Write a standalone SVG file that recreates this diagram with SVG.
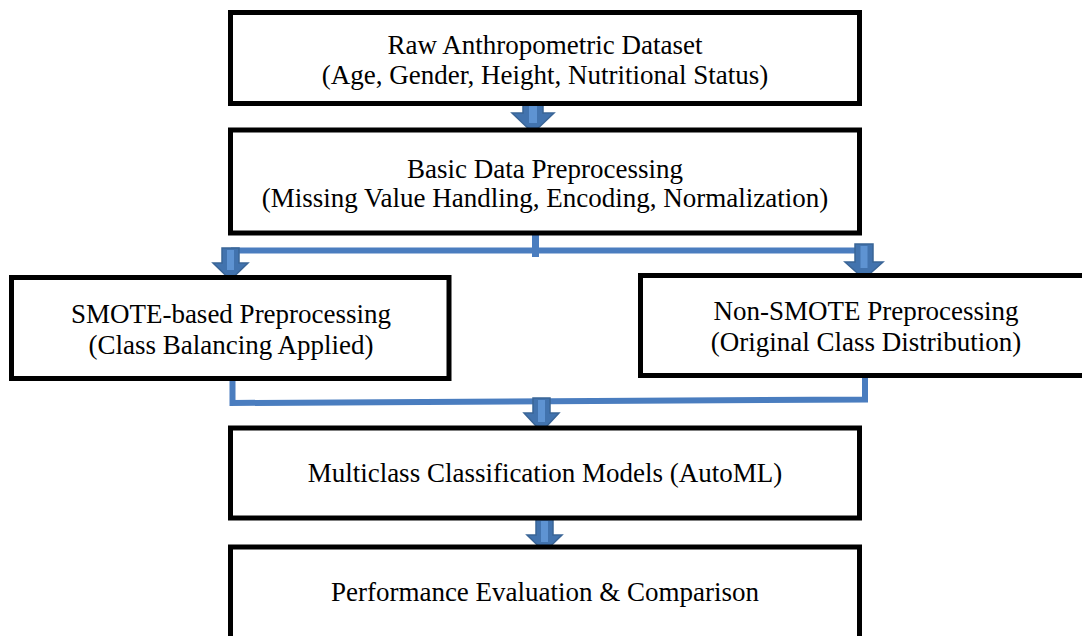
<svg xmlns="http://www.w3.org/2000/svg" width="1082" height="636" viewBox="0 0 1082 636">
<style>
.box{fill:#fff;stroke:#000;stroke-width:5}
.t{font-family:"Liberation Serif","Times New Roman",serif;font-size:27px;fill:#000;text-anchor:middle}
.conn{fill:none;stroke:#4A7DBF;stroke-width:6;stroke-linejoin:miter;stroke-linecap:butt}
.arr{fill:#4273AE;stroke:#3A6597;stroke-width:1.5;stroke-linejoin:miter}
.hl{fill:#5E93D2}
</style>
<rect width="1082" height="636" fill="#fff"/>
<g id="connectors">
<path class="conn" d="M231 250.5 H857"/>
<path d="M535.5 231 V257" stroke="#4A7DBF" stroke-width="7"/>
<path class="conn" d="M232.5 375 V403 L865 399.5 V374"/>
</g>
<g id="arrows">
<polygon class="arr" points="523,104 543,104 543,113 554,113 533,133 512,113 523,113"/>
<rect class="hl" x="529" y="106" width="8" height="17"/>
<polygon class="arr" points="222,248 239,248 239,263 248,263 230.5,280 213,263 222,263"/>
<rect class="hl" x="227" y="250" width="7" height="20"/>
<polygon class="arr" points="855,244 873,244 873,262 883,262 864,279 845,262 855,262"/>
<rect class="hl" x="860.5" y="246" width="7" height="22"/>
<polygon class="arr" points="533,398 550,398 550,413 559,413 541.5,432 524,413 533,413"/>
<rect class="hl" x="538" y="400" width="7" height="22"/>
<polygon class="arr" points="536,519 553,519 553,535 562,535 544.5,552 527,535 536,535"/>
<rect class="hl" x="541" y="521" width="7" height="21"/>
</g>
<g id="n1">
<rect class="box" x="230.5" y="12.5" width="629" height="91"/>
<text class="t" x="545" y="54">Raw Anthropometric Dataset</text>
<text class="t" x="545" y="84">(Age, Gender, Height, Nutritional Status)</text>
</g>
<g id="n2">
<rect class="box" x="230.5" y="130" width="629" height="103"/>
<text class="t" x="545" y="178">Basic Data Preprocessing</text>
<text class="t" x="545" y="207">(Missing Value Handling, Encoding, Normalization)</text>
</g>
<g id="n3">
<rect class="box" x="11.5" y="277.5" width="437.5" height="101"/>
<text class="t" x="231" y="323">SMOTE-based Preprocessing</text>
<text class="t" x="231" y="354">(Class Balancing Applied)</text>
</g>
<g id="n4">
<rect class="box" x="640.5" y="275.5" width="450" height="100"/>
<text class="t" x="866" y="320">Non-SMOTE Preprocessing</text>
<text class="t" x="866" y="351">(Original Class Distribution)</text>
</g>
<g id="n5">
<rect class="box" x="230.5" y="428" width="629" height="90"/>
<text class="t" x="545" y="482">Multiclass Classification Models (AutoML)</text>
</g>
<g id="n6">
<rect class="box" x="230.5" y="547" width="629" height="100"/>
<text class="t" x="545" y="601">Performance Evaluation &amp; Comparison</text>
</g>
</svg>
